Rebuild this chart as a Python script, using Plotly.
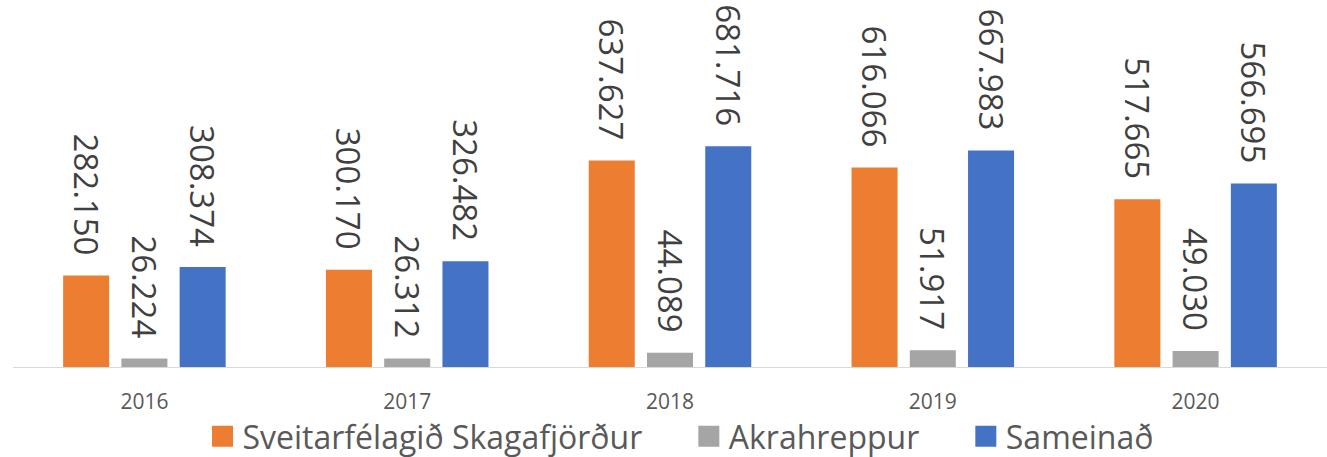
import plotly.graph_objects as go

years = ["2016", "2017", "2018", "2019", "2020"]
skagafjordur = [282150, 300170, 637627, 616066, 517665]
akrahreppur = [26224, 26312, 44089, 51917, 49030]
sameinad = [308374, 326482, 681716, 667983, 566695]

NB = "\u00a0"
series = [
    ("Sveitarfélagið Skagafjörður", skagafjordur, "#ED7D31", NB * 5),
    ("Akrahreppur", akrahreppur, "#A5A5A5", NB * 5),
    ("Sameinað", sameinad, "#4472C4", ""),
]

fig = go.Figure()
for name, vals, color, pad in series:
    fig.add_trace(go.Bar(
        name=name, x=years, y=vals, showlegend=False,
        marker=dict(color=color, line=dict(width=0)),
        texttemplate="%{y:,.0f}" + NB * 2,
        textposition="outside",
        textangle=90,
        constraintext="none",
        cliponaxis=False,
        textfont=dict(family="Open Sans", size=33, color="#404040"),
    ))
# legend entries (square swatches)
for name, vals, color, pad in series:
    fig.add_trace(go.Scatter(
        name=name + pad, x=[None], y=[None], mode="markers",
        marker=dict(symbol="square", size=16, color=color,
                    line=dict(width=5, color=color)),
        showlegend=True, hoverinfo="skip",
    ))

fig.update_layout(
    width=1327, height=457,
    margin=dict(l=13, r=0, t=5, b=90),
    paper_bgcolor="white", plot_bgcolor="white",
    separators=",.",
    barmode="group", bargap=0.335, bargroupgap=0.21,
    showlegend=True,
    legend=dict(orientation="h", x=0.508, xanchor="center",
                yref="container", y=0.045, yanchor="middle",
                font=dict(family="Open Sans", size=32, color="#595959"),
                itemwidth=30, bgcolor="rgba(0,0,0,0)"),
    xaxis=dict(showline=True, linecolor="#D9D9D9", linewidth=1, ticks="",
               tickfont=dict(family="Open Sans", size=21, color="#595959"),
               ticklabelstandoff=16, automargin=False,
               showgrid=False, fixedrange=True),
    yaxis=dict(range=[0, 1117500], visible=False, showgrid=False, fixedrange=True),
)

fig.write_html("out.html", config={"displayModeBar": False},
               post_script="document.body.style.margin='0';")
